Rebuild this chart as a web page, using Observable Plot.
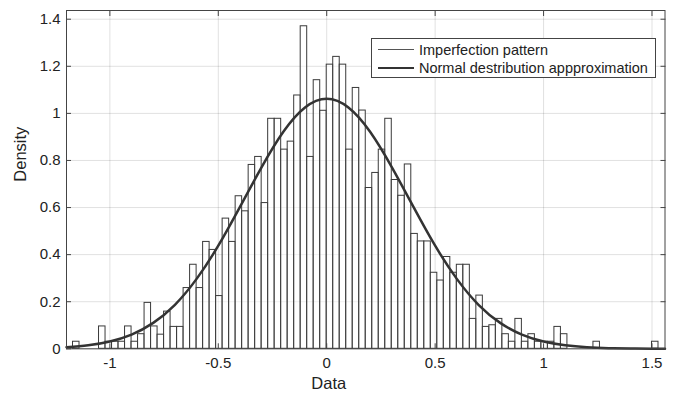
<!DOCTYPE html>
<html><head><meta charset="utf-8">
<script src="https://cdn.jsdelivr.net/npm/d3@7"></script>
<script src="https://cdn.jsdelivr.net/npm/@observablehq/plot@0.6"></script>
<style>
body{margin:0;background:#fff;}
#wrap{position:relative;width:680px;height:394px;font-family:"Liberation Sans",Arial,sans-serif;}
#legend{position:absolute;left:371px;top:38px;width:285px;height:40px;border:1px solid #444;background:#fff;box-sizing:border-box;font-size:14.5px;color:#222;}
.row{position:absolute;left:0;height:18px;display:flex;align-items:center;white-space:nowrap;}
.sw{width:36px;margin-left:6px;margin-right:5px;}
</style></head><body><div id="wrap"></div>
<script>
// Histogram bins (left edges, width 0.03) and densities
const binWidth = 0.03;
const binLeft = [
  -1.17,-1.14,-1.11,-1.08,-1.05,-1.02,-0.99,-0.96,-0.93,-0.90,
  -0.87,-0.84,-0.81,-0.78,-0.75,-0.72,-0.69,-0.66,-0.63,-0.60,
  -0.57,-0.54,-0.51,-0.48,-0.45,-0.42,-0.39,-0.36,-0.33,-0.30,
  -0.27,-0.24,-0.21,-0.18,-0.15,-0.12,-0.09,-0.06,-0.03,0.00,
  0.03,0.06,0.09,0.12,0.15,0.18,0.21,0.24,0.27,0.30,
  0.33,0.36,0.39,0.42,0.45,0.48,0.51,0.54,0.57,0.60,
  0.63,0.66,0.69,0.72,0.75,0.78,0.81,0.84,0.87,0.90,
  0.93,0.96,0.99,1.02,1.05,1.08,1.11,1.14,1.17,1.20,
  1.23,1.26,1.29,1.32,1.35,1.38,1.41,1.44,1.47,1.50
];
const density = [
  0.03,0,0,0,0.095,0.03,0.03,0.03,0.095,0.03,
  0.062,0.195,0.095,0.06,0.158,0.093,0.093,0.258,0.357,0.258,
  0.454,0.42,0.224,0.553,0.454,0.648,0.584,0.781,0.815,0.619,
  0.977,0.977,0.846,0.88,1.076,1.37,0.815,1.141,1.011,1.207,
  1.24,1.207,0.846,1.108,1.012,0.683,0.747,0.846,0.977,0.717,
  0.65,0.783,0.488,0.456,0.456,0.323,0.29,0.39,0.323,0.357,
  0.357,0.127,0.226,0.093,0.1,0.127,0.062,0.03,0.127,0.03,
  0.062,0.03,0.03,0.03,0.093,0.062,0,0,0,0,
  0.03,0,0,0,0,0,0,0,0,0.03
];
// Normal approximation curve
const curveX = [-1.2,-1.1,-1.0,-0.9,-0.8,-0.7,-0.6,-0.5,-0.4,-0.3,-0.2,-0.1,0,0.1,0.2,0.3,0.4,0.5,0.6,0.7,0.8,0.9,1.0,1.1,1.2,1.3,1.4,1.5,1.56];
const curveY = [0.0065,0.0146,0.0308,0.0602,0.110,0.187,0.297,0.438,0.603,0.772,0.922,1.025,1.062,1.025,0.922,0.772,0.603,0.438,0.297,0.187,0.110,0.0602,0.0308,0.0146,0.0065,0.0027,0.001,0.0004,0.0002];
// Axes
const xDomain = [-1.2, 1.56];
const yDomain = [0, 1.437];
const xTicks = [-1, -0.5, 0, 0.5, 1, 1.5];
const xTickLabels = ["-1", "-0.5", "0", "0.5", "1", "1.5"];
const yTicks = [0, 0.2, 0.4, 0.6, 0.8, 1, 1.2, 1.4];
const yTickLabels = ["0", "0.2", "0.4", "0.6", "0.8", "1", "1.2", "1.4"];
const seriesNames = ["Imperfection pattern", "Normal destribution appproximation"];

const bins = binLeft.map((x, i) => ({x1: x, x2: x + binWidth, y: density[i]}));
const curve = curveX.map((x, i) => ({x, y: curveY[i]}));
const fx = d => xTickLabels[xTicks.indexOf(d)];
const fy = d => yTickLabels[yTicks.indexOf(d)];
const ink = "#444";

const chart = Plot.plot({
  width: 680, height: 394,
  marginLeft: 66, marginRight: 15.5, marginTop: 10, marginBottom: 45.7,
  style: {fontFamily: "Liberation Sans, Arial, sans-serif", fontSize: "15px", color: "#222", background: "#fff"},
  x: {domain: xDomain},
  y: {domain: yDomain},
  marks: [
    Plot.gridX(xTicks, {stroke: "#000", strokeOpacity: 0.12}),
    Plot.gridY(yTicks, {stroke: "#000", strokeOpacity: 0.12}),
    Plot.rectY(bins, {x1: "x1", x2: "x2", y: "y", fill: "white", fillOpacity: 0.5, stroke: "#3a3a3a", strokeWidth: 1}),
    Plot.line(curve, {x: "x", y: "y", curve: "natural", stroke: "#333", strokeWidth: 2.5}),
    Plot.frame({stroke: ink}),
    Plot.axisX(xTicks, {anchor: "bottom", tickSize: -5, tickFormat: () => "", stroke: ink, label: null}),
    Plot.axisX(xTicks, {anchor: "top", tickSize: -5, tickFormat: () => "", stroke: ink, label: null}),
    Plot.axisY(yTicks, {anchor: "left", tickSize: -5, tickFormat: () => "", stroke: ink, label: null}),
    Plot.axisY(yTicks, {anchor: "right", tickSize: -5, tickFormat: () => "", stroke: ink, label: null}),
    Plot.axisX(xTicks, {anchor: "bottom", tickSize: 0, tickPadding: 9, tickFormat: fx, label: null, fill: "#222"}),
    Plot.axisY(yTicks, {anchor: "left", tickSize: 0, tickPadding: 6, tickFormat: fy, label: null, fill: "#222"}),
    Plot.text(["Data"], {frameAnchor: "bottom", text: d => d, dx: -37, dy: 35, lineAnchor: "middle", fontSize: 16.5, fill: "#222"}),
    Plot.text(["Density"], {frameAnchor: "left", text: d => d, dx: -46, dy: 2, rotate: -90, lineAnchor: "middle", fontSize: 16.5, fill: "#222"})
  ]
});
const wrap = document.getElementById("wrap");
wrap.appendChild(chart);
const legend = document.createElement("div");
legend.id = "legend";
legend.innerHTML =
  `<div class="row" style="top:1.5px"><div class="sw" style="border-top:1px solid #555"></div><span>${seriesNames[0]}</span></div>` +
  `<div class="row" style="top:19.5px"><div class="sw" style="border-top:2.5px solid #333"></div><span>${seriesNames[1]}</span></div>`;
wrap.appendChild(legend);
</script>
</body></html>
